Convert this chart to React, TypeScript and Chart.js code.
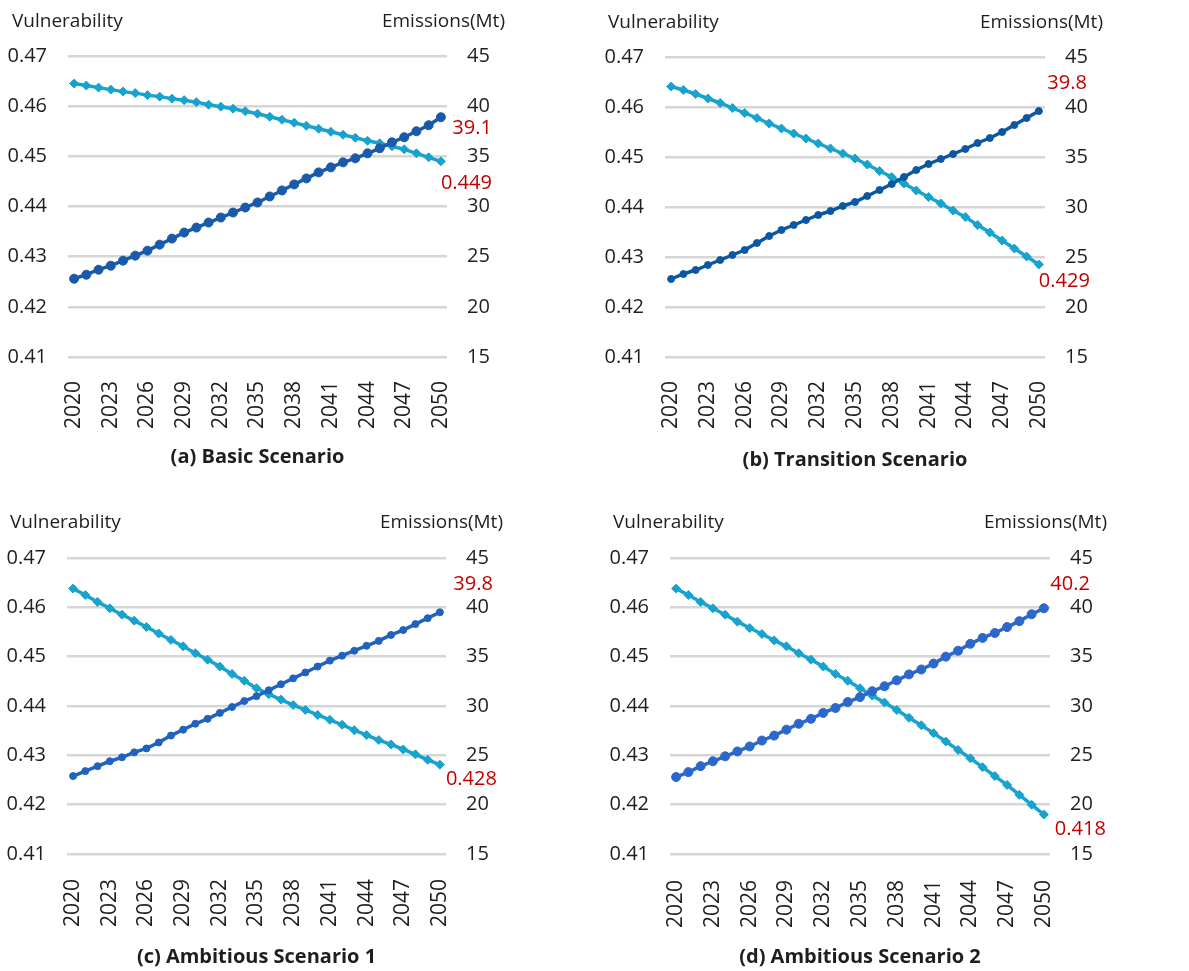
import React, { useEffect, useRef } from "react";
import { Chart, registerables } from "chart.js";

Chart.register(...registerables);

const years: string[] = [
  "2020","2021","2022","2023","2024","2025","2026","2027","2028","2029",
  "2030","2031","2032","2033","2034","2035","2036","2037","2038","2039",
  "2040","2041","2042","2043","2044","2045","2046","2047","2048","2049","2050",
];

const vulnBasic = [0.4645,0.4641,0.4637,0.4633,0.4629,0.4626,0.4622,0.4619,0.4615,0.4612,0.4608,0.4603,0.4599,0.4595,0.4590,0.4585,0.4579,0.4573,0.4567,0.4561,0.4555,0.4549,0.4543,0.4537,0.4531,0.4526,0.4520,0.4514,0.4506,0.4498,0.4490];
const emisBasic = [22.8,23.2,23.7,24.1,24.6,25.1,25.6,26.2,26.8,27.4,27.9,28.4,28.9,29.4,29.9,30.4,31.0,31.6,32.2,32.8,33.4,33.9,34.4,34.8,35.3,35.8,36.4,36.9,37.5,38.1,38.9];

const vulnTransition = [0.4641,0.4634,0.4626,0.4617,0.4608,0.4598,0.4588,0.4578,0.4567,0.4557,0.4547,0.4537,0.4527,0.4517,0.4507,0.4497,0.4485,0.4472,0.4460,0.4447,0.4433,0.4420,0.4407,0.4393,0.4380,0.4364,0.4349,0.4333,0.4317,0.4301,0.4285];
const emisTransition = [22.8,23.3,23.7,24.2,24.7,25.2,25.7,26.4,27.1,27.7,28.2,28.7,29.2,29.6,30.1,30.5,31.1,31.7,32.3,33.0,33.7,34.3,34.8,35.3,35.8,36.4,36.9,37.5,38.2,38.9,39.6];

const vulnAmbitious1 = [0.4638,0.4625,0.4611,0.4598,0.4585,0.4573,0.4560,0.4547,0.4534,0.4521,0.4507,0.4494,0.4480,0.4465,0.4451,0.4436,0.4424,0.4413,0.4402,0.4392,0.4382,0.4372,0.4362,0.4351,0.4341,0.4331,0.4322,0.4312,0.4302,0.4291,0.4281];
const emisAmbitious1 = [22.9,23.4,23.9,24.4,24.8,25.3,25.7,26.3,27.0,27.6,28.2,28.7,29.3,29.9,30.5,31.0,31.6,32.2,32.8,33.4,34.0,34.6,35.1,35.6,36.1,36.6,37.2,37.7,38.3,38.9,39.5];

const vulnAmbitious2 = [0.4638,0.4625,0.4611,0.4598,0.4585,0.4571,0.4558,0.4546,0.4533,0.4521,0.4507,0.4494,0.4480,0.4465,0.4451,0.4436,0.4421,0.4407,0.4392,0.4376,0.4361,0.4345,0.4328,0.4311,0.4294,0.4276,0.4258,0.4240,0.4220,0.4200,0.4180];
const emisAmbitious2 = [22.8,23.3,23.9,24.4,24.9,25.4,25.9,26.5,27.0,27.6,28.2,28.7,29.3,29.8,30.4,30.9,31.5,32.0,32.6,33.2,33.7,34.3,35.0,35.6,36.3,36.9,37.4,38.0,38.6,39.3,39.9];

const panelTitles = ["(a) Basic Scenario", "(b) Transition Scenario", "(c) Ambitious Scenario 1", "(d) Ambitious Scenario 2"];
const emisEndLabels = ["39.1", "39.8", "39.8", "40.2"];
const vulnEndLabels = ["0.449", "0.429", "0.428", "0.418"];
const leftAxisName = "Vulnerability";
const rightAxisName = "Emissions(Mt)";

const vulnSeries = [vulnBasic, vulnTransition, vulnAmbitious1, vulnAmbitious2];
const emisSeries = [emisBasic, emisTransition, emisAmbitious1, emisAmbitious2];

const FONT = "'Open Sans', 'Noto Sans', sans-serif";

type Panel = {
  left: number; top: number; w: number; h: number;
  l: number; r: number; t: number; b: number;
  vulnX: number; headY: number; emisRight: number; titleY: number;
  xPad: number;
  emisColor: string; emisRadius: number; vulnRadius: number;
  emisLbl: [number, number]; vulnLbl: [number, number];
};

const panels: Panel[] = [
  { left: 0, top: 0, w: 590, h: 480, l: 68, r: 447, t: 56, b: 357, vulnX: 12, headY: 22, emisRight: 505, titleY: 457, xPad: 16,
    emisColor: "#1a5aaa", emisRadius: 4.5, vulnRadius: 4.5, emisLbl: [51, 11], vulnLbl: [51, 22] },
  { left: 590, top: 0, w: 599, h: 480, l: 75, r: 455, t: 57, b: 357, vulnX: 18, headY: 23, emisRight: 513, titleY: 460, xPad: 16,
    emisColor: "#0c57a2", emisRadius: 3.5, vulnRadius: 4.5, emisLbl: [48, -28], vulnLbl: [51, 17] },
  { left: 0, top: 490, w: 590, h: 481, l: 67, r: 446, t: 68, b: 364, vulnX: 10, headY: 33, emisRight: 503, titleY: 467, xPad: 17,
    emisColor: "#2062bf", emisRadius: 3.5, vulnRadius: 4.5, emisLbl: [53, -28], vulnLbl: [57, 15] },
  { left: 590, top: 490, w: 599, h: 481, l: 80, r: 460, t: 68, b: 364, vulnX: 23, headY: 33, emisRight: 517, titleY: 467, xPad: 18,
    emisColor: "#2c67cb", emisRadius: 4.5, vulnRadius: 4.5, emisLbl: [46, -24], vulnLbl: [62, 15] },
];

function PanelChart({ idx }: { idx: number }) {
  const ref = useRef<HTMLCanvasElement | null>(null);
  const p = panels[idx];
  useEffect(() => {
    if (!ref.current) return;
    const textPlugin = {
      id: "panelText" + idx,
      afterDraw(chart: any) {
        const ctx = chart.ctx as CanvasRenderingContext2D;
        const ca = chart.chartArea;
        ctx.save();
        ctx.fillStyle = "#1e1e1e";
        ctx.font = `19px ${FONT}`;
        ctx.textBaseline = "middle";
        ctx.textAlign = "left";
        ctx.fillText(leftAxisName, p.vulnX, p.headY);
        ctx.textAlign = "right";
        ctx.fillText(rightAxisName, p.emisRight, p.headY);
        ctx.font = `bold 20px ${FONT}`;
        ctx.textAlign = "center";
        ctx.fillText(panelTitles[idx], (ca.left + ca.right) / 2, p.titleY);
        const vm = chart.getDatasetMeta(0).data;
        const em = chart.getDatasetMeta(1).data;
        const vLast = vm[vm.length - 1];
        const eLast = em[em.length - 1];
        ctx.fillStyle = "#c00000";
        ctx.font = `20px ${FONT}`;
        ctx.textAlign = "right";
        ctx.fillText(emisEndLabels[idx], eLast.x + p.emisLbl[0], eLast.y + p.emisLbl[1]);
        ctx.fillText(vulnEndLabels[idx], vLast.x + p.vulnLbl[0], vLast.y + p.vulnLbl[1]);
        ctx.restore();
      },
    };
    const chart = new Chart(ref.current, {
      type: "line",
      data: {
        labels: years,
        datasets: [
          {
            label: leftAxisName,
            data: vulnSeries[idx],
            yAxisID: "y",
            order: 2,
            borderColor: "#18a3cf",
            backgroundColor: "#18a3cf",
            pointBorderColor: "#18a3cf",
            pointStyle: "rectRot",
            pointRadius: p.vulnRadius,
            pointBorderWidth: 1,
            borderWidth: 3.5,
            tension: 0,
          },
          {
            label: rightAxisName,
            data: emisSeries[idx],
            yAxisID: "y1",
            order: 1,
            borderColor: p.emisColor,
            backgroundColor: p.emisColor,
            pointBorderColor: p.emisColor,
            pointStyle: "circle",
            pointRadius: p.emisRadius,
            pointBorderWidth: 1,
            borderWidth: 3.5,
            tension: 0,
          },
        ],
      },
      options: {
        animation: false,
        responsive: false,
        layout: { padding: { top: p.t, left: 0, right: 0, bottom: 0 } },
        plugins: { legend: { display: false }, tooltip: { enabled: false }, title: { display: false } },
        scales: {
          x: {
            offset: true,
            grid: { display: false },
            border: { display: false },
            ticks: {
              autoSkip: false,
              maxRotation: 90,
              minRotation: 90,
              padding: p.xPad,
              color: "#1e1e1e",
              font: { family: FONT, size: 21 },
              callback: (_v: any, i: number) => (i % 3 === 0 ? years[i] : ""),
            },
            afterFit: (s: any) => { s.height = p.h - p.b; },
          },
          y: {
            position: "left",
            min: 0.41,
            max: 0.47,
            ticks: {
              stepSize: 0.01,
              padding: 21,
              color: "#1e1e1e",
              font: { family: FONT, size: 20 },
              callback: (v: any) => Number(v).toFixed(2),
            },
            grid: { color: "#d6d6d6", lineWidth: 2.5, drawTicks: false },
            border: { display: false },
            afterFit: (s: any) => { s.width = p.l; },
          },
          y1: {
            position: "right",
            min: 15,
            max: 45,
            ticks: {
              stepSize: 5,
              padding: 20,
              color: "#1e1e1e",
              font: { family: FONT, size: 20 },
            },
            grid: { display: false, drawTicks: false },
            border: { display: false },
            afterFit: (s: any) => { s.width = p.w - p.r; },
          },
        },
      },
      plugins: [textPlugin],
    } as any);
    return () => chart.destroy();
  }, [idx]);
  return (
    <div style={{ position: "absolute", left: p.left, top: p.top, width: p.w, height: p.h }}>
      <canvas ref={ref} width={p.w} height={p.h} style={{ display: "block", width: p.w, height: p.h }} />
    </div>
  );
}

export default function App() {
  return (
    <div style={{ position: "absolute", left: 0, top: 0, width: 1189, height: 971, background: "#ffffff" }}>
      {panels.map((_, i) => (
        <PanelChart key={i} idx={i} />
      ))}
    </div>
  );
}
